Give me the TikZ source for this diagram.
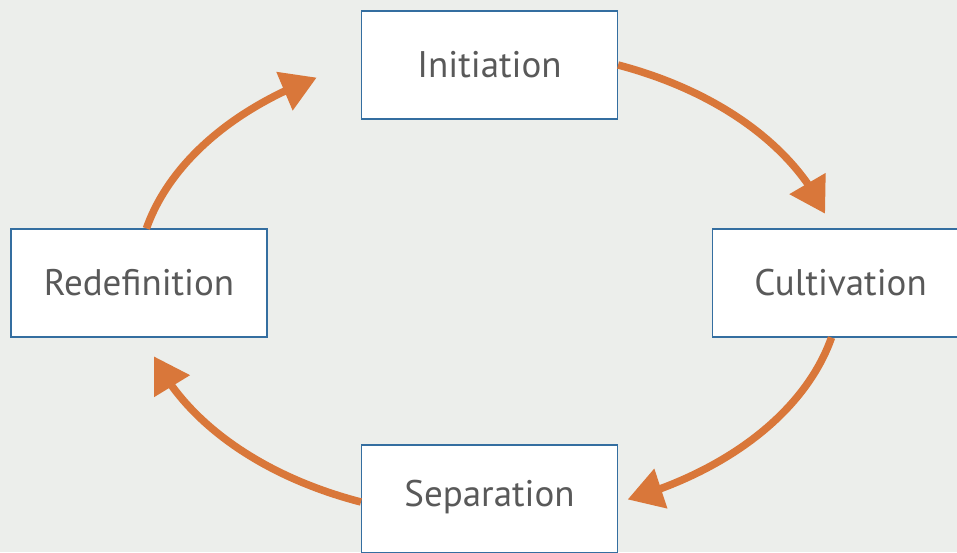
\documentclass[tikz,border=0pt]{standalone}
\usepackage{fontspec}
\setmainfont{PT Sans}
\usetikzlibrary{arrows.meta,bending}
\definecolor{bgc}{RGB}{236,238,235}
\definecolor{boxline}{RGB}{52,110,160}
\definecolor{txt}{RGB}{89,89,89}
\definecolor{arr}{RGB}{217,119,58}
\tikzset{
  stagebox/.style={draw=boxline, line width=1.1pt, fill=white, minimum width=256pt,
    minimum height=108pt, inner sep=0pt, text=txt, font=\fontsize{37}{41}\selectfont},
  cyclearrow/.style={draw=arr, line width=7.5pt, -{Triangle[length=35pt,width=40pt]}}
}
\begin{document}
\begin{tikzpicture}[x=1pt,y=1pt]
\fill[bgc] (0,0) rectangle (957,552);
\clip (0,0) rectangle (957,552);
\node[stagebox] (init) at (489.5,487) {Initiation};
\node[stagebox] (cult) at (840.5,269) {Cultivation};
\node[stagebox, text depth=12pt] (sep)  at (489.5,53) {Separation};
\node[stagebox] (red)  at (139,269) {Redefinition};
\draw[cyclearrow] (init.east) arc[start angle=68.5, end angle=17.3, x radius=352, y radius=235];
\draw[cyclearrow] ([xshift=-9pt]cult.south) arc[start angle=-13.3, end angle=-66.8, x radius=352, y radius=235];
\draw[cyclearrow] ([yshift=-3pt]sep.west) arc[start angle=248.8, end angle=198.2, x radius=352, y radius=235];
\draw[cyclearrow] ([xshift=7.4pt]red.north) arc[start angle=166.7, end angle=119.3, x radius=352, y radius=235];
\end{tikzpicture}
\end{document}
